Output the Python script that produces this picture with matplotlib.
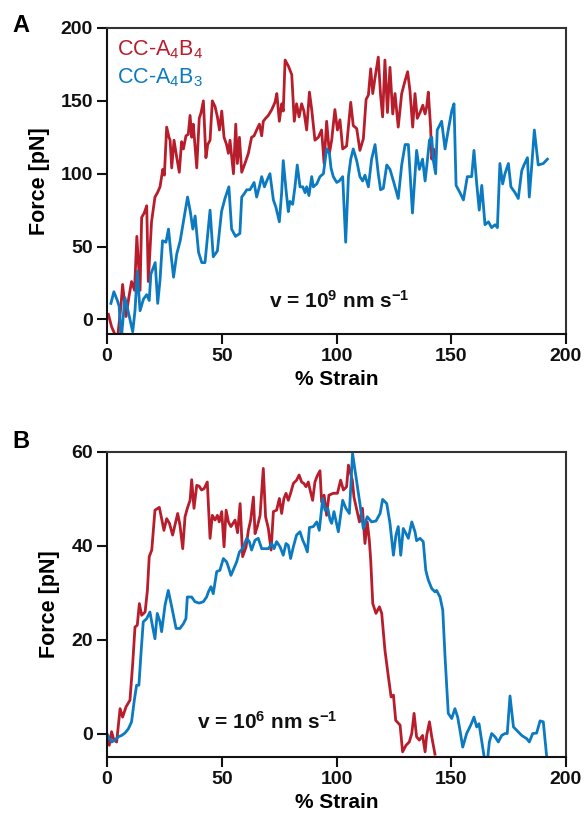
import matplotlib
matplotlib.use('Agg')
from matplotlib import pyplot as plt
import numpy as np

plt.rcParams['font.family'] = ['Liberation Sans', 'DejaVu Sans']
plt.rcParams['mathtext.fontset'] = 'custom'
plt.rcParams['mathtext.rm'] = 'Liberation Sans'
plt.rcParams['mathtext.bf'] = 'Liberation Sans:bold'
plt.rcParams['mathtext.it'] = 'Liberation Sans:italic'
plt.rcParams['mathtext.default'] = 'rm'

RED = '#b81d2b'
BLUE = '#0b7ac0'

# panel A, v = 1e9 nm/s
a_red_strain = [0.6, 2.0, 4.5, 6.0, 6.8, 8.3, 9.5, 10.7, 12.0, 13.0, 14.4, 15.1, 16.2, 17.3, 18.0, 19.4,
                20.9, 22.0, 23.1, 24.3, 25.0, 26.0, 27.0, 27.5, 28.2, 29.2, 30.4, 31.5, 32.5, 33.3, 34.4,
                35.4, 36.2, 36.9, 37.6, 39.1, 40.2, 41.0, 42.0, 43.1, 43.9, 44.9, 45.9, 47.1, 48.1, 49.0,
                50.0, 51.0, 52.1, 52.9, 53.6, 55.1, 56.1, 56.8, 57.7, 58.7, 60.1, 61.6, 63.0, 64.1, 65.2,
                66.4, 67.4, 68.1, 69.1, 70.3, 71.8, 73.2, 74.0, 75.1, 76.1, 76.8, 77.6, 79.0, 80.5, 81.6,
                82.6, 83.7, 84.8, 85.8, 87.0, 88.2, 89.2, 90.6, 92.1, 93.5, 94.6, 95.7, 96.9, 97.9, 99.3,
                100.4, 101.5, 102.7, 104.4, 106.2, 107.3, 108.8, 110.2, 111.7, 112.9, 113.9, 114.9, 115.8,
                116.8, 118.2, 119.2, 120.1, 121.1, 122.2, 123.3, 124.5, 125.5, 126.9, 128.4, 129.9, 131.0,
                132.0, 133.2, 134.2, 135.2, 136.4, 137.6, 138.6, 139.3, 140.0, 141.0, 141.5, 142.3, 142.8]
a_red_force = [3.5, -5, -14, 8, 24, 2, 15, 26, 20, 57, 20, 70, 73, 78, 26, 67,
               84, 87, 91, 103, 99, 132, 125, 123, 104, 123, 111, 101, 122, 117, 126,
               127, 140, 125, 134, 104, 138, 142, 150, 111, 120, 123, 150, 146, 139, 130,
               143, 125, 120, 114, 123, 100, 134, 107, 125, 101, 107, 114, 125, 126, 130,
               134, 126, 136, 138, 140, 144, 149, 155, 136, 148, 143, 178, 174, 168, 136,
               148, 139, 148, 143, 130, 156, 144, 123, 125, 130, 107, 136, 114, 123, 144,
               130, 137, 117, 119, 149, 133, 131, 116, 124, 151, 154, 172, 155,
               166, 180, 154, 139, 178, 142, 173, 141, 155, 132, 155, 164, 170,
               157, 132, 155, 138, 142, 147, 141, 146, 156, 132, 110, 117, 111]

a_blue_strain = [1.7, 3.0, 4.5, 5.3, 6.2, 7.8, 9.3, 11.2, 12.2, 13.2, 14.4, 15.9, 17.3, 18.4, 19.1, 21.0,
                 22.1, 23.1, 24.2, 25.7, 26.8, 27.8, 29.0, 30.4, 31.9, 33.6, 35.1, 36.3, 37.4, 38.4, 39.9,
                 41.3, 42.7, 44.9, 46.3, 48.1, 49.9, 51.4, 53.1, 54.3, 56.0, 57.9, 58.7, 59.7, 60.9, 62.3,
                 64.1, 65.2, 66.4, 67.4, 68.6, 69.6, 71.0, 72.5, 73.6, 75.1, 76.1, 76.8, 78.0, 79.0, 79.7,
                 80.9, 81.9, 82.9, 84.1, 85.3, 86.3, 87.0, 88.0, 89.2, 89.9, 91.4, 92.8, 94.3, 95.7, 96.9,
                 97.6, 98.6, 100.1, 101.2, 102.7, 104.0, 105.2, 106.2, 107.3, 108.8, 110.2, 111.4, 112.4,
                 113.9, 115.3, 116.8, 118.2, 119.2, 120.4, 121.9, 123.3, 124.8, 126.9, 128.4, 129.9, 131.3,
                 133.1, 134.9, 136.1, 137.5, 138.6, 139.6, 140.5, 141.5, 142.2, 143.2, 143.9, 145.8, 147.3,
                 148.7, 150.2, 151.2, 152.1, 153.8, 155.3, 157.0, 158.9, 159.9, 161.1, 162.2, 163.3, 164.7,
                 166.2, 167.6, 169.1, 170.1, 171.2, 172.4, 173.4, 174.9, 176.0, 177.8, 179.2, 180.7, 181.7,
                 183.2, 184.0, 185.0, 186.2, 187.9, 190.1, 191.3, 191.9]
a_blue_force = [11, 19, 13, 9, -14, 15, 5, -8.5, 6, 33, 6, 14, 17, 13, 31, 39,
                11, 27, 54, 53, 62, 46, 29, 45, 54, 70, 84, 74, 62, 71, 46,
                39, 39, 75, 43, 47, 74, 83, 91, 62, 57, 59, 84, 86, 89, 89,
                94, 84, 91, 98, 91, 95, 100, 82, 77, 67, 87, 109, 89, 74, 81,
                79, 91, 106, 91, 91, 87, 91, 85, 98, 91, 93, 98, 100, 117, 114,
                104, 98, 94, 95, 98, 53, 98, 110, 117, 109, 98, 95, 99,
                91, 110, 120, 100, 89, 90, 106, 103, 95, 83, 106, 120, 120,
                73, 116, 103, 110, 95, 109, 123, 125, 109, 100, 130, 136, 117,
                130, 143, 148, 92, 87, 82, 98, 98, 116, 93, 75, 92, 65,
                67, 63, 65, 63, 107, 93, 100, 107, 91, 87, 83, 102, 106,
                111, 84, 104, 130, 106, 107, 109, 110]

# panel B, v = 1e6 nm/s
b_red_strain = [-0.1, 1.0, 2.0, 3.0, 4.2, 5.7, 6.8, 8.3, 10.0, 11.2, 12.2, 13.2, 14.1, 15.1, 16.6, 17.6,
                18.4, 19.5, 20.9, 22.8, 23.8, 24.8, 26.0, 27.2, 28.6, 29.6, 30.8, 31.8, 33.0, 34.0, 35.0,
                36.2, 36.9, 37.9, 39.1, 40.2, 41.2, 42.3, 43.7, 44.9, 45.9, 47.1, 48.1, 48.9, 50.0, 51.0,
                51.9, 52.9, 54.0, 55.8, 56.9, 58.0, 59.1, 60.6, 61.6, 62.6, 63.8, 64.5, 65.5, 66.7, 68.1,
                69.1, 70.3, 71.5, 72.5, 73.9, 75.1, 76.1, 77.1, 78.0, 79.0, 80.0, 81.2, 82.6, 83.7, 84.8,
                85.8, 86.7, 87.7, 88.5, 89.6, 90.6, 91.6, 92.8, 93.5, 94.6, 95.7, 96.7, 98.6, 100.4, 101.8,
                103.0, 104.4, 105.2, 106.9, 107.6, 110.0, 111.3, 112.4, 113.4, 114.3, 114.9, 115.8, 117.2,
                118.7, 119.7, 121.1, 122.6, 123.8, 124.8, 125.8, 127.7, 128.8, 130.3, 131.7, 132.8, 133.8,
                134.9, 136.1, 137.5, 138.6, 139.3, 140.5, 141.5, 142.9]
b_red_force = [0, -2.5, 0.4, -1.4, -1.8, 5.3, 3.5, 5.7, 7.1, 14.9, 22.7, 23.1, 27.7, 25.2, 25.9, 30.5,
               37.7, 39.1, 47.6, 48.2, 45.8, 43.3, 45.8, 44.8, 42.3, 44.4, 46.9, 44.4, 39.4, 46.2, 48.0,
               49.7, 54.1, 48.0, 52.9, 52.7, 51.9, 52.2, 53.6, 41.6, 46.5, 45.5, 46.5, 45.1, 47.3, 39.8,
               47.6, 45.1, 44.1, 45.5, 42.8, 49.0, 37.7, 39.8, 43.3, 45.5, 50.4, 42.6, 44.1, 46.5, 56.5,
               46.2, 43.7, 39.1, 47.3, 47.6, 50.1, 46.9, 50.1, 51.2, 49.7, 51.2, 53.3, 54.0, 55.1, 53.6,
               53.3, 52.6, 53.6, 51.9, 49.7, 53.6, 54.9, 56.0, 49.4, 50.8, 46.5, 50.8, 51.2, 51.2, 54.0,
               51.9, 52.6, 57.2, 54.0, 50.4, 45.1, 48.0, 40.5, 45.1, 41.2, 37.0, 27.7, 25.6,
               27.0, 25.6, 17.8, 12.1, 7.8, 8.2, 2.8, 1.8, -3.9, -2.5, -1.8, 0.0, 4.3,
               -0.7, -1.4, -0.4, -3.9, -0.4, 2.5, -0.7, -4.4]

b_blue_strain = [-0.1, 2.0, 3.5, 4.9, 6.4, 7.8, 9.3, 10.7, 11.9, 12.9, 13.9, 14.8, 15.8, 17.3, 18.7, 19.9,
                 20.9, 21.9, 23.1, 23.8, 25.3, 26.7, 28.2, 30.1, 31.8, 33.3, 34.4, 35.0, 36.9, 38.3, 40.2,
                 42.0, 43.4, 44.2, 45.3, 46.3, 47.8, 49.2, 50.7, 52.1, 52.9, 54.0, 55.3, 56.5, 57.7, 59.1,
                 60.9, 62.0, 63.0, 64.5, 65.9, 67.4, 68.8, 70.3, 71.8, 72.8, 73.9, 75.4, 76.8, 78.0, 79.0,
                 80.0, 81.2, 82.6, 84.1, 85.3, 86.3, 87.3, 88.2, 89.9, 91.4, 92.5, 94.0, 95.0, 96.2, 97.2,
                 97.9, 98.9, 100.8, 102.7, 104.1, 105.6, 107.0, 108.5, 110.2, 111.7, 113.4, 115.3, 117.2,
                 119.0, 120.1, 121.9, 123.3, 124.8, 125.9, 126.9, 128.0, 129.1, 130.3, 131.3, 132.8, 134.2,
                 134.9, 136.4, 137.8, 138.9, 140.0, 141.5, 142.9, 143.6, 145.1, 146.3, 147.3, 148.7, 150.2,
                 151.6, 152.8, 153.8, 155.0, 156.7, 158.5, 159.9, 161.1, 162.1, 165.3, 166.6, 167.6, 169.1,
                 170.5, 172.0, 173.4, 174.4, 175.6, 177.1, 178.5, 180.7, 182.9, 184.0, 185.5, 187.2, 188.7,
                 190.1, 191.8]
b_blue_force = [0, -1.8, -1.4, -0.7, -0.4, 0.1, 1.0, 2.5, 7.1, 10.3, 10.3, 17.0, 23.8, 24.5, 25.9, 22.7,
                20.2, 25.6, 23.8, 21.7, 27.4, 30.5, 27.0, 22.4, 22.4, 23.4, 24.5, 29.1, 29.1, 28.1, 27.8,
                28.1, 29.1, 30.2, 31.3, 29.8, 34.5, 34.8, 37.3, 36.6, 35.5, 33.7, 35.2, 36.6, 38.7, 39.4,
                41.6, 40.9, 39.1, 41.2, 41.6, 39.4, 39.4, 39.4, 40.5, 39.4, 40.9, 39.8, 38.0, 40.5, 40.1,
                37.3, 39.8, 42.3, 43.0, 41.2, 40.1, 38.7, 43.9, 44.1, 45.1, 43.3, 50.1, 47.6, 48.0, 45.5,
                44.8, 47.3, 43.0, 49.7, 48.0, 46.9, 59.7, 54.7, 49.0, 43.7, 46.2, 45.1, 45.3,
                46.9, 49.9, 49.0, 44.8, 38.0, 42.3, 44.1, 38.0, 43.7, 42.6, 41.6, 45.1, 43.0,
                41.1, 41.6, 40.9, 34.8, 32.7, 30.9, 30.2, 30.5, 29.1, 26.3, 16.3, 4.3, 3.2,
                5.3, 3.5, 0.7, -2.9, 0.0, 1.8, 3.5, 1.4, 2.1, -8.0, -1.8, 0.0, -0.7,
                -1.8, -0.4, 0.0, 0.0, 8.0, 1.4, 0.7, -0.4, -1.1, -1.8, 0.0, 0.1, 2.7,
                2.5, -6.0]


def style_axes(ax, ylim, yticks):
    ax.set_xlim(0, 200)
    ax.set_ylim(*ylim)
    ax.set_xticks([0, 50, 100, 150, 200])
    ax.set_yticks(yticks)
    for side in ['left', 'bottom', 'top', 'right']:
        ax.spines[side].set_linewidth(1.5)
    ax.spines['left'].set_color('#111111')
    ax.spines['bottom'].set_color('#111111')
    ax.spines['top'].set_color('#333333')
    ax.spines['right'].set_color('#333333')
    ax.tick_params(axis='both', direction='out', length=7, width=1.5, pad=3,
                   labelsize=14, colors='#111111')
    for lab in ax.get_xticklabels() + ax.get_yticklabels():
        lab.set_fontweight('bold')
    ax.set_xlabel('% Strain', fontsize=15, fontweight='bold', labelpad=4)
    ax.set_ylabel('Force [pN]', fontsize=15.5, fontweight='bold', labelpad=8)


fig = plt.figure(figsize=(5.86, 8.18), dpi=100)
ax_a = fig.add_axes([107 / 586, 1 - 334 / 818, 459 / 586, 306 / 818])
ax_b = fig.add_axes([107 / 586, 1 - 757 / 818, 459 / 586, 305 / 818])

ax_a.plot(a_red_strain, a_red_force, color=RED, lw=2.0)
ax_a.plot(a_blue_strain, a_blue_force, color=BLUE, lw=2.0)
style_axes(ax_a, (-10, 200), [0, 50, 100, 150, 200])
ax_a.text(0.022, 0.928, 'CC-A$_4$B$_4$', transform=ax_a.transAxes, color=RED, fontsize=15.5, va='center')
ax_a.text(0.022, 0.836, 'CC-A$_4$B$_3$', transform=ax_a.transAxes, color=BLUE, fontsize=15.5, va='center')
ax_a.text(101, 13, r'v = 10$^{\mathbf{9}}$ nm s$^{\mathbf{-1}}$', ha='center', va='center',
          fontsize=15, fontweight='bold', color='#111111')

ax_b.plot(b_red_strain, b_red_force, color=RED, lw=2.0)
ax_b.plot(b_blue_strain, b_blue_force, color=BLUE, lw=2.0)
style_axes(ax_b, (-5, 60), [0, 20, 40, 60])
ax_b.text(70, 2.4, r'v = 10$^{\mathbf{6}}$ nm s$^{\mathbf{-1}}$', ha='center', va='center',
          fontsize=15, fontweight='bold', color='#111111')

fig.text(12 / 586, 1 - 25 / 818, 'A', fontsize=17, fontweight='bold', va='center')
fig.text(12 / 586, 1 - 442 / 818, 'B', fontsize=17, fontweight='bold', va='center')

fig.savefig('out.png', dpi=100)
